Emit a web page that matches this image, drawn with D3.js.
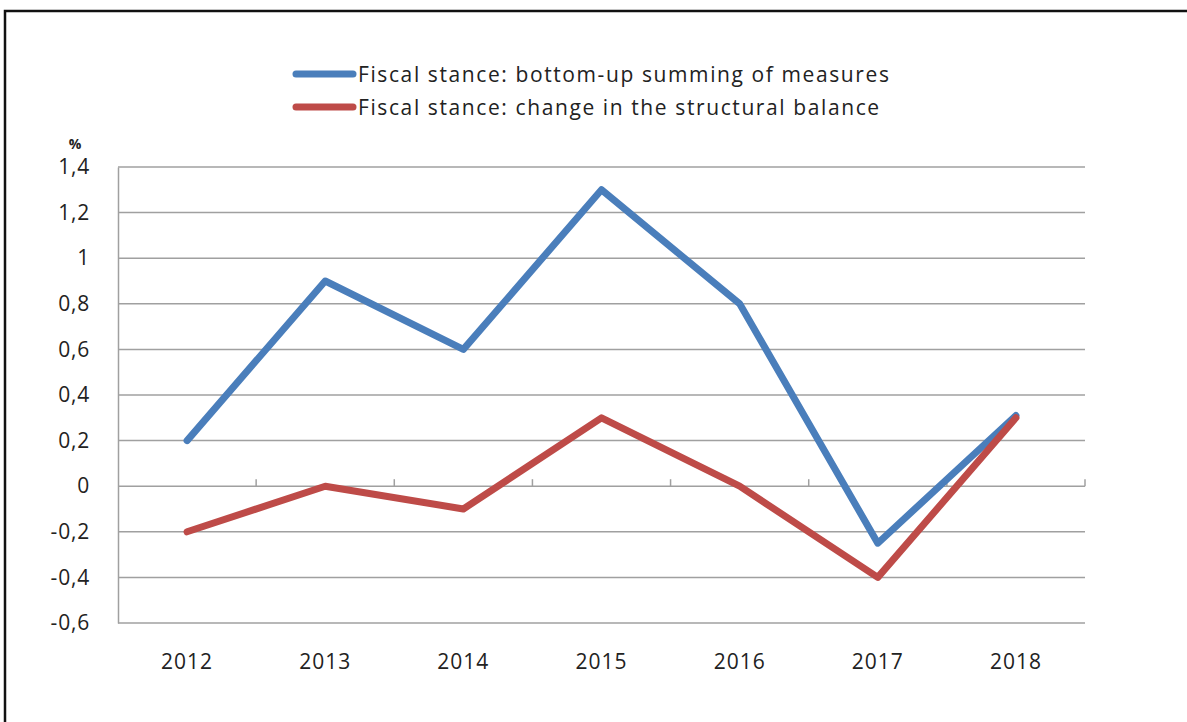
<!DOCTYPE html>
<html>
<head>
<meta charset="utf-8">
<script src="https://cdn.jsdelivr.net/npm/d3@7"></script>
<style>
  body { margin: 0; background: #fff; }
  text { font-family: "Open Sans", "Noto Sans", sans-serif; fill: #222; }
</style>
</head>
<body>
<div id="chart"></div>
<script>
const years = ['2012', '2013', '2014', '2015', '2016', '2017', '2018'];
const bottomUp = [0.2, 0.9, 0.6, 1.3, 0.8, -0.25, 0.31];
const structural = [-0.2, 0, -0.1, 0.3, 0, -0.4, 0.3];
const yTicks = [1.4, 1.2, 1, 0.8, 0.6, 0.4, 0.2, 0, -0.2, -0.4, -0.6];
const seriesNames = ['Fiscal stance: bottom-up summing of measures', 'Fiscal stance: change in the structural balance'];
const colors = ['#4a7ebb', '#be4b48'];

let width = 1187,
    height = 722;
let plot = {left: 118, right: 1085, top: 167, bottom: 623};

let svg = d3.select('#chart').append('svg')
    .attr('width', width)
    .attr('height', height);

// frame (left + top border only visible)
svg.append('path')
    .attr('d', 'M5,722 V11 H1187')
    .attr('fill', 'none')
    .attr('stroke', '#111')
    .attr('stroke-width', 2.5);

let x = d3.scaleBand().domain(years).range([plot.left, plot.right]);
let y = d3.scaleLinear().domain([-0.6, 1.4]).range([plot.bottom, plot.top]);

// gridlines
svg.append('g')
    .selectAll('line')
    .data(yTicks.filter(d => d !== 0))
    .join('line')
    .attr('x1', plot.left)
    .attr('x2', plot.right)
    .attr('y1', d => y(d))
    .attr('y2', d => y(d))
    .attr('stroke', '#a0a0a0')
    .attr('stroke-width', 1.5);

// y axis
let fmt = d => String(d).replace('.', ',');
let yAxis = svg.append('g')
    .attr('transform', `translate(${plot.left},0)`)
    .call(d3.axisLeft(y).tickValues(yTicks).tickSize(0).tickPadding(28).tickFormat(fmt));
yAxis.select('.domain').attr('stroke', '#a0a0a0').attr('stroke-width', 1.5);
yAxis.selectAll('text')
    .style('font-size', '21px')
    .style('letter-spacing', '0.8px')
    .style('font-family', '"Open Sans", sans-serif')
    .attr('fill', '#222');

svg.append('text')
    .attr('x', 75)
    .attr('y', 149)
    .attr('text-anchor', 'middle')
    .style('font-size', '14px')
    .style('font-weight', 'bold')
    .text('%');

// x axis at zero
let xAxisG = svg.append('g').attr('transform', `translate(0,${y(0)})`);
xAxisG.append('line')
    .attr('x1', plot.left).attr('x2', plot.right)
    .attr('stroke', '#a0a0a0').attr('stroke-width', 1.5);
let bounds = years.map(d => x(d)).slice(1).concat([plot.right]);
xAxisG.selectAll('.tick')
    .data(bounds)
    .join('line')
    .attr('x1', d => d).attr('x2', d => d)
    .attr('y1', 0).attr('y2', -7)
    .attr('stroke', '#a0a0a0').attr('stroke-width', 1.5);

svg.append('g')
    .selectAll('text')
    .data(years)
    .join('text')
    .attr('x', d => x(d) + x.bandwidth() / 2)
    .attr('y', 669)
    .attr('text-anchor', 'middle')
    .style('font-size', '21px')
    .style('letter-spacing', '1px')
    .text(d => d);

// lines
let line = d3.line()
    .x((d, i) => x(years[i]) + x.bandwidth() / 2)
    .y(d => y(d));

[bottomUp, structural].forEach((s, i) => {
    svg.append('path')
        .attr('d', line(s))
        .attr('fill', 'none')
        .attr('stroke', colors[i])
        .attr('stroke-width', 7)
        .attr('stroke-linejoin', 'round')
        .attr('stroke-linecap', 'round');
});

// legend
let legend = svg.append('g');
seriesNames.forEach((name, i) => {
    let ly = 74 + i * 33;
    legend.append('line')
        .attr('x1', 296).attr('x2', 353)
        .attr('y1', ly).attr('y2', ly)
        .attr('stroke', colors[i])
        .attr('stroke-width', 7)
        .attr('stroke-linecap', 'round');
    legend.append('text')
        .attr('x', 358)
        .attr('y', ly + 8)
        .style('font-size', '21px')
        .style('letter-spacing', '1.6px')
        .text(name);
});
</script>
</body>
</html>
